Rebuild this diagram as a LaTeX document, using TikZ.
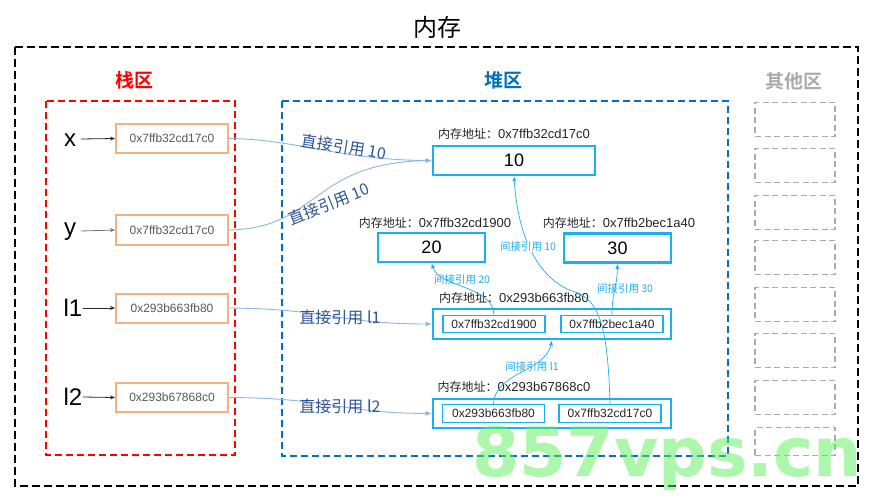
\documentclass[tikz,border=0pt]{standalone}
\usepackage{fontspec}
\setmainfont{Liberation Sans}
\newfontfamily\cjk{Noto Sans CJK SC}[BoldFont={Noto Sans CJK SC Bold}]
\newfontfamily\wmfont{DejaVu Sans}
\usetikzlibrary{arrows.meta}
\definecolor{stkred}{HTML}{FF0000}
\definecolor{heapblue}{HTML}{0070C0}
\definecolor{othgray}{HTML}{ABABAB}
\definecolor{orng}{HTML}{F4B183}
\definecolor{cyanb}{HTML}{1AB0EE}
\definecolor{dirline}{HTML}{8DB6E2}
\definecolor{dirtext}{HTML}{2F5597}
\definecolor{hexgray}{HTML}{595959}
\definecolor{wmgreen}{HTML}{5CF05C}
\newcommand\addrtext[1]{{\cjk\fontsize{12}{12}\selectfont 内存地址：}#1}
\tikzset{
  stackbox/.style={draw=orng, line width=2pt, minimum width=112pt, minimum height=29pt, inner sep=0pt, text=hexgray, font=\fontsize{12}{12}\selectfont},
  varlbl/.style={inner sep=0pt, font=\fontsize{24}{24}\selectfont},
  heapbox/.style={draw=cyanb, line width=2.6pt, inner sep=0pt, font=\fontsize{18}{18}\selectfont},
  innerbox/.style={draw=cyanb, line width=1.4pt, inner sep=0pt, minimum width=102pt, minimum height=17.5pt, text=black!85, font=\fontsize{12}{12}\selectfont},
  addrlbl/.style={inner sep=0pt, text=black!85, font=\fontsize{13}{13}\selectfont},
  dirlbl/.style={inner sep=0pt, text=dirtext, font=\cjk\fontsize{16}{16}\selectfont},
  indlbl/.style={inner sep=0.5pt, text=cyanb, font=\cjk\fontsize{10.5}{10.5}\selectfont},
  direct/.style={draw=dirline, line width=0.9pt, -{Latex[length=6pt,width=5pt]}},
  indirect/.style={draw=cyanb, line width=0.7pt, -{Latex[length=5pt,width=4pt]}},
  varline/.style={draw=black!85, line width=0.8pt, -{Stealth[length=5pt,width=4pt]}},
  graybox/.style={draw=othgray, line width=1.8pt, dash pattern=on 6pt off 3.5pt, minimum width=80pt, inner sep=0pt},
}
\begin{document}
\begin{tikzpicture}[x=1pt,y=-1pt]
\useasboundingbox[fill=white] (0,0) rectangle (887,500);

% title and frames
\node[inner sep=0pt, font=\cjk\fontsize{24}{24}\selectfont] (title) at (437,27) {内存};
\draw[line width=2.6pt, dash pattern=on 8pt off 4pt] (15,47) rectangle (858,486);

\node[inner sep=0pt, text=stkred, font=\cjk\bfseries\fontsize{19}{19}\selectfont] (stkt) at (134,80) {栈区};
\draw[stkred, line width=2.4pt, dash pattern=on 7pt off 4pt] (46,101) rectangle (235,455);

\node[inner sep=0pt, text=heapblue, font=\cjk\bfseries\fontsize{19}{19}\selectfont] (heapt) at (503,80) {堆区};
\draw[heapblue, line width=2.4pt, dash pattern=on 7pt off 4pt] (282,101) rectangle (728,456);

\node[inner sep=0pt, text=othgray, font=\cjk\bfseries\fontsize{19}{19}\selectfont] (otht) at (794,81) {其他区};
\foreach \t [count=\i] in {102,148,195,240,287,333,380} {
  \node[graybox, minimum height=34pt] (g\i) at (795,\t+17.5) {};
}
\node[graybox, minimum height=28pt] (g8) at (795,441.5) {};

% stack
\node[stackbox] (xb) at (172,138.5) {0x7ffb32cd17c0};
\node[stackbox] (yb) at (172,230) {0x7ffb32cd17c0};
\node[stackbox] (l1b) at (172,308) {0x293b663fb80};
\node[stackbox] (l2b) at (172,397.5) {0x293b67868c0};

\node[varlbl] (xv) at (70,140) {x};
\node[varlbl] (yv) at (70,232) {y};
\node[varlbl] (l1v) at (73,308) {l1};
\node[varlbl] (l2v) at (73,397) {l2};
\draw[varline] (81,139) -- (xb.west);
\draw[varline, draw=black!55] (81,231) -- (yb.west);
\draw[varline] (l1v.east) -- (l1b.west);
\draw[varline] (l2v.east) -- (l2b.west);

% heap
\node[heapbox, minimum width=162pt, minimum height=29pt] (h10) at (514,160.5) {10};
\node[addrlbl] (a10) at (514,134) {\addrtext{0x7ffb32cd17c0}};
\node[heapbox, minimum width=107pt, minimum height=29pt] (h20) at (431.5,247.5) {20};
\node[addrlbl] (a20) at (435,223) {\addrtext{0x7ffb32cd1900}};
\node[heapbox, minimum width=107pt, minimum height=29pt] (h30) at (617.5,248) {30};
\node[addrlbl] (a30) at (619,223) {\addrtext{0x7ffb2bec1a40}};

\node[heapbox, minimum width=238pt, minimum height=30pt] (hl1) at (552,324) {};
\node[addrlbl] (al1) at (514,298) {\addrtext{0x293b663fb80}};
\node[innerbox] (i1a) at (494,324) {0x7ffb32cd1900};
\node[innerbox] (i1b) at (612,324) {0x7ffb2bec1a40};

\node[heapbox, minimum width=238pt, minimum height=29pt] (hl2) at (552,413.5) {};
\node[addrlbl] (al2) at (514,387) {\addrtext{0x293b67868c0}};
\node[innerbox] (i2a) at (493.5,413.5) {0x293b663fb80};
\node[innerbox] (i2b) at (610,413.5) {0x7ffb32cd17c0};

% direct references
\draw[direct] (xb.east) .. controls (295,139) and (340,160) .. (h10.west);
\draw[direct] (yb.east) .. controls (320,228) and (310,163) .. (h10.west);
\draw[direct] (l1b.east) .. controls (330,309) and (340,324) .. (hl1.west);
\draw[direct] (l2b.east) .. controls (330,398) and (340,413) .. (hl2.west);
\node[dirlbl, rotate=-9] (d1) at (344,147) {直接引用 10};
\node[dirlbl, rotate=22] (d2) at (329,204) {直接引用 10};
\node[dirlbl] (d3) at (340,317) {直接引用 l1};
\node[dirlbl] (d4) at (340,406) {直接引用 l2};

% indirect references
\draw[indirect] (i1a.north) .. controls (492,285) and (440,288) .. (h20.south);
\draw[indirect] (i1b.north) .. controls (612,292) and (617,288) .. (h30.south);
\draw[indirect] (i2a.north) .. controls (495,372) and (545,372) .. (hl1.south);
\draw[indirect] (i2b.north) .. controls (608,330) and (600,300) .. (575,292) .. controls (540,281) and (518,240) .. (h10.south);
\node[indlbl] (n20) at (462,280) {间接引用 20};
\node[indlbl] (n30) at (625,289) {间接引用 30};
\node[indlbl] (nl1) at (532,367) {间接引用 l1};
\node[indlbl, fill=white] (n10) at (528,247) {间接引用 10};

% watermark
\node[inner sep=0pt, text=wmgreen, opacity=0.5, font=\wmfont\bfseries\fontsize{68}{68}\selectfont, anchor=base west] (wm) at (472,476) {857vps.cn};
\end{tikzpicture}
\end{document}
